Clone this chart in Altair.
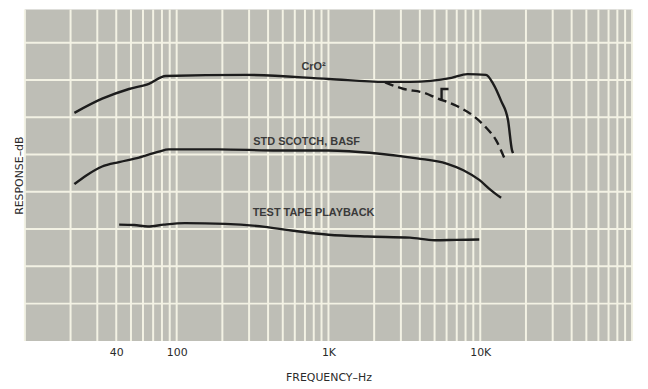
import altair as alt
import pandas as pd

# ---- data (frequency in Hz, response in dB) ----
cro2_f = [21.2, 32.3, 48.5, 65.6, 84.7, 287, 1000, 2360, 3440, 6460, 8220, 10900, 12170, 13720, 15240, 16180, 16430]
cro2_db = [-9.4, -7.5, -6.2, -5.5, -4.45, -4.3, -4.85, -5.25, -5.25, -4.7, -4.2, -4.3, -5.5, -7.8, -10.4, -14.4, -14.8]

cro2_dash_f = [2360, 3140, 4240, 5150, 6960, 8990, 10940, 12730, 14360]
cro2_dash_db = [-5.3, -6.2, -6.7, -7.4, -8.45, -9.8, -11.4, -13.1, -15.4]

mark_f = [6180, 5560, 5560]
mark_db = [-6.2, -6.2, -7.65]

scotch_f = [21.2, 25.4, 32.3, 41.8, 56.5, 76.3, 88.6, 188, 465, 1000, 2090, 3820, 6000, 7740, 9850, 11800, 13720]
scotch_db = [-18.96, -17.8, -16.6, -16.0, -15.4, -14.6, -14.3, -14.3, -14.45, -14.45, -14.85, -15.5, -16.2, -17.1, -18.4, -19.8, -20.8]

test_f = [41.8, 52.4, 64.6, 82.2, 113, 209, 382, 531, 1000, 1800, 3440, 5000, 6960, 9850]
test_db = [-24.4, -24.45, -24.65, -24.4, -24.2, -24.3, -24.7, -25.1, -25.75, -26.0, -26.15, -26.5, -26.45, -26.4]

label_text = ["CrO\u00b2", "STD SCOTCH, BASF", "TEST TAPE PLAYBACK"]
label_f = [798, 718, 798]
label_db = [-3.3, -13.25, -22.85]

tick_values = [40, 100, 1000, 10000]
decades = [10, 100, 1000, 10000]
multipliers = [1, 2, 3, 4, 5, 6, 7, 8, 9]
hgrid_db = [0, -5, -10, -15, -20, -25, -30, -35]

# ---- tables ----
def series(name, fs, dbs):
    return pd.DataFrame({"f": fs, "db": dbs, "series": name, "i": range(len(fs))})

solid = pd.concat([
    series("CrO2", cro2_f, cro2_db),
    series("mark", mark_f, mark_db),
    series("Scotch", scotch_f, scotch_db),
    series("Test", test_f, test_db),
])
dashed = series("CrO2 dashed", cro2_dash_f, cro2_dash_db)
labels = pd.DataFrame({"t": label_text, "f": label_f, "db": label_db})
vgrid = pd.DataFrame({"f": [d * m for d in decades for m in multipliers] + [100000]})
hgrid = pd.DataFrame({"db": hgrid_db})

xs = alt.Scale(type="log", domain=[10, 100000], nice=False)
ys = alt.Scale(domain=[-40, 4.47], nice=False, zero=False)

grid_col = "#f3f2e4"
ink = "#1c1c1c"

vrules = alt.Chart(vgrid).mark_rule(color=grid_col, strokeWidth=2).encode(
    x=alt.X("f:Q", scale=xs,
            axis=alt.Axis(values=tick_values, grid=False, ticks=False, domain=False,
                          labelExpr="datum.value >= 1000 ? (datum.value/1000) + 'K' : datum.value",
                          labelFont="DejaVu Sans", labelFontSize=11, labelColor="#2a2a2a",
                          labelPadding=6, title="FREQUENCY\u2013Hz", titleFont="DejaVu Sans",
                          titleFontSize=11, titleFontWeight="normal", titleColor="#2a2a2a",
                          titlePadding=14))
)
hrules = alt.Chart(hgrid).mark_rule(color=grid_col, strokeWidth=2).encode(
    y=alt.Y("db:Q", scale=ys,
            axis=alt.Axis(labels=False, ticks=False, domain=False, grid=False,
                          title="RESPONSE\u2013dB", titleFont="DejaVu Sans", titleFontSize=11,
                          titleFontWeight="normal", titleColor="#2a2a2a", titlePadding=0))
)

lines = alt.Chart(solid).mark_line(color=ink, strokeWidth=2.4, interpolate="monotone").encode(
    x=alt.X("f:Q", scale=xs), y=alt.Y("db:Q", scale=ys), detail="series:N", order="i:Q"
)
mark_lines = alt.Chart(dashed).mark_line(color=ink, strokeWidth=2.4, strokeDash=[9, 5],
                                         interpolate="monotone").encode(
    x=alt.X("f:Q", scale=xs), y=alt.Y("db:Q", scale=ys), order="i:Q"
)
texts = alt.Chart(labels).mark_text(font="Liberation Sans", fontSize=11, fontWeight=600,
                                    color="#3a3a3a", baseline="middle").encode(
    x=alt.X("f:Q", scale=xs), y=alt.Y("db:Q", scale=ys), text="t:N"
)

chart = alt.layer(vrules, hrules, lines, mark_lines, texts).properties(
    width=612, height=334,
    autosize=alt.AutoSizeParams(type="none"),
    padding={"left": 17, "top": 0, "right": 8, "bottom": 48},
    background="white",
).configure_view(fill="#bebeb6", stroke=None)

chart.save("out.html", embed_options={"renderer": "svg", "actions": False})
